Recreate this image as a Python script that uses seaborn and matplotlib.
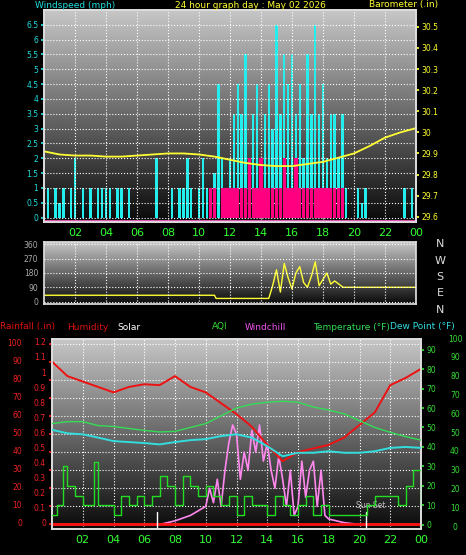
import matplotlib
matplotlib.use("Agg")
import matplotlib.pyplot as plt
import numpy as np
import pandas as pd
import seaborn as sns

sns.set_theme(style="dark")
plt.rcParams["font.family"] = ["DejaVu Sans"]

W, H = 466, 555

# ---- data ----
q_hours = np.arange(0, 24.01, 0.25)
wind_gust = [0, 1, 0, 1, 0.5, 1, 0, 1, 2, 0, 1, 0, 1, 0, 1, 1,
             1, 1, 0, 1, 1, 0, 1, 0, 0, 0, 0, 0, 0, 2, 0, 0,
             0, 1, 0, 1, 1, 2, 1, 0, 1, 2, 1, 1, 1.5, 4.5, 2, 1,
             2, 3.5, 4.5, 3.5, 5.5, 2, 3.5, 4.5, 2, 3.5, 4.5, 3, 6.5, 3.5, 5.5, 4.5,
             5.5, 3.5, 4.5, 2, 5.5, 3.5, 6.5, 3.5, 4.5, 2, 3.5, 3.5, 2, 3.5, 1, 0,
             0, 1, 0.5, 1, 0, 0, 0, 0, 0, 0, 0, 0, 0, 1, 0, 1, 0]
wind_avg = [0] * 43 + [1, 1, 0, 1, 1,
            1, 1, 1, 1, 1, 2, 1, 1, 2, 1, 1, 1, 1, 1, 2, 1,
            1, 2, 1, 1, 1, 1, 1, 1, 1, 1, 1, 1, 1, 1, 0, 0] + [0] * 17

h_hours = np.arange(0, 25)
baro = [29.91, 29.895, 29.89, 29.89, 29.885, 29.885, 29.89, 29.895, 29.9, 29.9,
        29.895, 29.885, 29.87, 29.855, 29.845, 29.84, 29.84, 29.85, 29.86, 29.88,
        29.9, 29.935, 29.975, 30.0, 30.02]

dir_hours = [0, 11, 11.1, 14.5, 14.75, 15, 15.25, 15.5, 15.75, 16, 16.25, 16.5, 16.75,
             17, 17.25, 17.5, 17.75, 18, 18.25, 18.5, 18.75, 19.3, 24]
wind_dir = [40, 40, 20, 20, 100, 200, 60, 240, 150, 80, 180, 220, 120,
            90, 160, 250, 100, 140, 180, 110, 130, 90, 90]

humidity = [90, 82, 79, 76, 73, 76, 77.5, 77, 82, 76, 73, 67, 61, 54, 44, 35,
            40, 42, 44, 48, 55, 62, 77, 81, 86]
temperature = [52, 53, 53, 51, 50.5, 49.5, 48.5, 47.7, 48, 50, 52, 56, 60, 62, 63,
               63.5, 63, 60.5, 59, 57, 53.5, 50, 47.5, 45.3, 43.5]
dew_point = [48.8, 47, 46.5, 44.8, 43, 42.5, 42, 41.3, 42.5, 43.5, 44, 45.6, 46.5,
             44.8, 40.4, 35.2, 37, 37, 37.8, 37, 37, 37.8, 39.5, 40, 39.5]

aqi_hours = [0, 0.3, 0.7, 1, 1.5, 2, 2.7, 3, 4, 4.5, 5, 5.5, 6, 6.5, 7, 7.5, 8, 8.5,
             9, 9.5, 10, 10.5, 11, 11.5, 12, 12.5, 13, 14, 14.5, 15, 15.5, 16, 16.5,
             17, 17.5, 18, 20, 20.5, 21, 22, 22.5, 23, 23.5, 24]
aqi = [5, 10, 30, 20, 15, 10, 32, 10, 5, 15, 10, 15, 10, 15, 25, 20, 10, 25,
       20, 15, 20, 15, 10, 15, 5, 15, 10, 5, 15, 10, 5, 10, 15,
       5, 10, 5, 5, 10, 15, 15, 10, 20, 28, 10]

solar_hours = [0, 7, 8, 9, 10, 10.25, 10.5, 10.75, 11, 11.25, 11.5, 11.75, 12, 12.25,
               12.5, 12.75, 13, 13.25, 13.5, 13.75, 14, 14.25, 14.5, 14.75, 15, 15.25,
               15.5, 15.75, 16, 16.25, 16.5, 16.75, 17, 17.25, 17.5, 17.75, 18, 19, 20, 24]
solar = [0, 0, 2, 5, 10, 20, 12, 25, 10, 30, 45, 55, 50, 25, 40, 30, 52, 40, 55, 35,
         45, 30, 20, 38, 25, 10, 30, 5, 10, 35, 15, 30, 35, 10, 30, 5, 3, 1, 0, 0]

rain_hours = [0, 24]
rain = [0, 0]

hour_ticks = list(range(2, 25, 2))
hour_labels = [f"{h % 24:02d}" for h in hour_ticks]

fig = plt.figure(figsize=(W / 100, H / 100), dpi=100, facecolor="black")


def add_ax(l, t, r, b):
    return fig.add_axes([l / W, 1 - b / H, (r - l) / W, (b - t) / H])


def gradient(ax, y0, y1):
    g = np.linspace(0, 1, 256).reshape(-1, 1)
    ax.imshow(g, extent=[0, 24, y0, y1], aspect="auto", cmap="gray",
              vmin=-0.05, vmax=1.3, origin="lower", zorder=0)


def style(ax, xlabels=True):
    ax.set_xlim(0, 24)
    ax.set_xticks(hour_ticks)
    ax.set_xticklabels(hour_labels if xlabels else [])
    ax.tick_params(axis="x", colors="#33ff33", labelsize=8, length=2, pad=2)
    for s in ax.spines.values():
        s.set_color("#dddddd")
    ax.grid(True, color="white", linestyle=":", linewidth=0.8)
    ax.set_axisbelow(False)


def vline_ticks(ax, col):
    ax.tick_params(axis="y", colors=col, labelsize=5.5, length=2, pad=2)


# ---- top panel ----
ax1 = add_ax(44, 10, 416, 222)
gradient(ax1, -0.15, 7.0)
ax1.bar(q_hours, wind_gust, width=0.16, color="#22eeee", linewidth=0, zorder=2)
ax1.bar(q_hours, wind_avg, width=0.22, color="#ff0080", linewidth=0, zorder=3)
ax1.set_ylim(-0.15, 7.0)
ax1.set_yticks(np.arange(0, 6.6, 0.5))
ax1.set_yticklabels([f"{v:g}" for v in np.arange(0, 6.6, 0.5)])
vline_ticks(ax1, "#22dddd")
style(ax1)
ax1.axhline(-0.1, color="#ff66cc", lw=1.2, zorder=3)
ax1b = ax1.twinx()
sns.lineplot(x=h_hours, y=baro, ax=ax1b, color="#ffff33", lw=1.3)
ax1b.set_ylim(29.575, 30.58)
ax1b.set_yticks(np.arange(29.6, 30.51, 0.1))
ax1b.set_yticklabels([f"{v:g}" for v in np.round(np.arange(29.6, 30.51, 0.1), 1)])
vline_ticks(ax1b, "#ffff33")
for s in ax1b.spines.values():
    s.set_color("#dddddd")
ax1b.grid(False)

fig.text(35 / W, 1 - 5 / H, "Windspeed (mph)", color="#22dddd", fontsize=6.5, va="center")
fig.text(250 / W, 1 - 5 / H, "24 hour graph day : May 02 2026", color="#ffff33",
         fontsize=6.5, va="center", ha="center")
fig.text(438 / W, 1 - 5 / H, "Barometer (.in)", color="#ffff33", fontsize=6.5,
         va="center", ha="right")

# ---- middle panel (wind direction) ----
ax2 = add_ax(44, 242, 416, 304)
gradient(ax2, -15, 375)
sns.lineplot(x=dir_hours, y=wind_dir, ax=ax2, color="#ffff33", lw=1.0)
ax2.set_ylim(-15, 375)
ax2.set_yticks([0, 90, 180, 270, 360])
vline_ticks(ax2, "#aaaaaa")
style(ax2, xlabels=False)
ax2.tick_params(axis="x", length=0)
for i, lbl in enumerate(["N", "W", "S", "E", "N"]):
    fig.text(440 / W, 1 - (244 + i * 16.5) / H, lbl, color="#dddddd", fontsize=8,
             va="center", ha="center")

# ---- bottom panel ----
ax3 = add_ax(52, 339, 421, 529)
gradient(ax3, -2.5, 102.5)
sns.lineplot(x=solar_hours, y=solar, ax=ax3, color="#ff88ee", lw=1.2, zorder=3)
sns.lineplot(x=h_hours, y=humidity, ax=ax3, color="#ee1111", lw=1.4, zorder=4)
ax3.plot(rain_hours, rain, color="#ff1111", lw=2, zorder=4)
ax3.set_ylim(-2.5, 102.5)
ax3.set_yticks(np.arange(0, 101, 10))
ax3.set_yticklabels([])
ax3.tick_params(axis="y", colors="#ee2222", length=2)
style(ax3)
for hx in [6.8, 20.4]:
    ax3.plot([hx, hx], [-2.5, 7], color="white", lw=1, zorder=5)
ax3.text(19.8, 9, "Sun Set", color="#bbbbbb", fontsize=5.5, zorder=5)
for v in range(0, 101, 10):
    fig.text(22 / W, 1 - (524 - v * 1.81) / H, str(v), color="#ee2222",
             fontsize=5.5, va="center", ha="right")
for i, v in enumerate(np.arange(0, 1.21, 0.1)):
    fig.text(46 / W, 1 - (524 - i * 15.1) / H, f"{v:g}", color="#ee2222",
             fontsize=5.5, va="center", ha="right")

ax3b = ax3.twinx()
sns.lineplot(x=h_hours, y=temperature, ax=ax3b, color="#33dd55", lw=1.0, zorder=3)
sns.lineplot(x=h_hours, y=dew_point, ax=ax3b, color="#33dddd", lw=1.4, zorder=3)
ax3b.step(aqi_hours, aqi, where="post", color="#22dd22", lw=1.0, zorder=3)
ax3b.set_ylim(-2.2, 95.5)
ax3b.set_yticks(np.arange(0, 91, 10))
vline_ticks(ax3b, "#33dd33")
ax3b.grid(False)
for s in ax3b.spines.values():
    s.set_color("#dddddd")
for i, v in enumerate(range(0, 101, 10)):
    fig.text(455 / W, 1 - (527 - i * 18.8) / H, str(v), color="#33dd33",
             fontsize=5.5, va="center", ha="center")

hdr_y = 1 - 327 / H
for x, txt, col in [(0, "Rainfall (.in)", "#dd1111"), (67, "Humidity", "#dd1111"),
                    (117, "Solar", "white"), (212, "AQI", "#33dd33"),
                    (245, "Windchill", "#ee55ee"), (313, "Temperature (°F)", "#33dd55"),
                    (390, "Dew Point (°F)", "#33dddd")]:
    fig.text(x / W, hdr_y, txt, color=col, fontsize=6.5, va="center")

fig.savefig("out.png", dpi=100, facecolor="black")
